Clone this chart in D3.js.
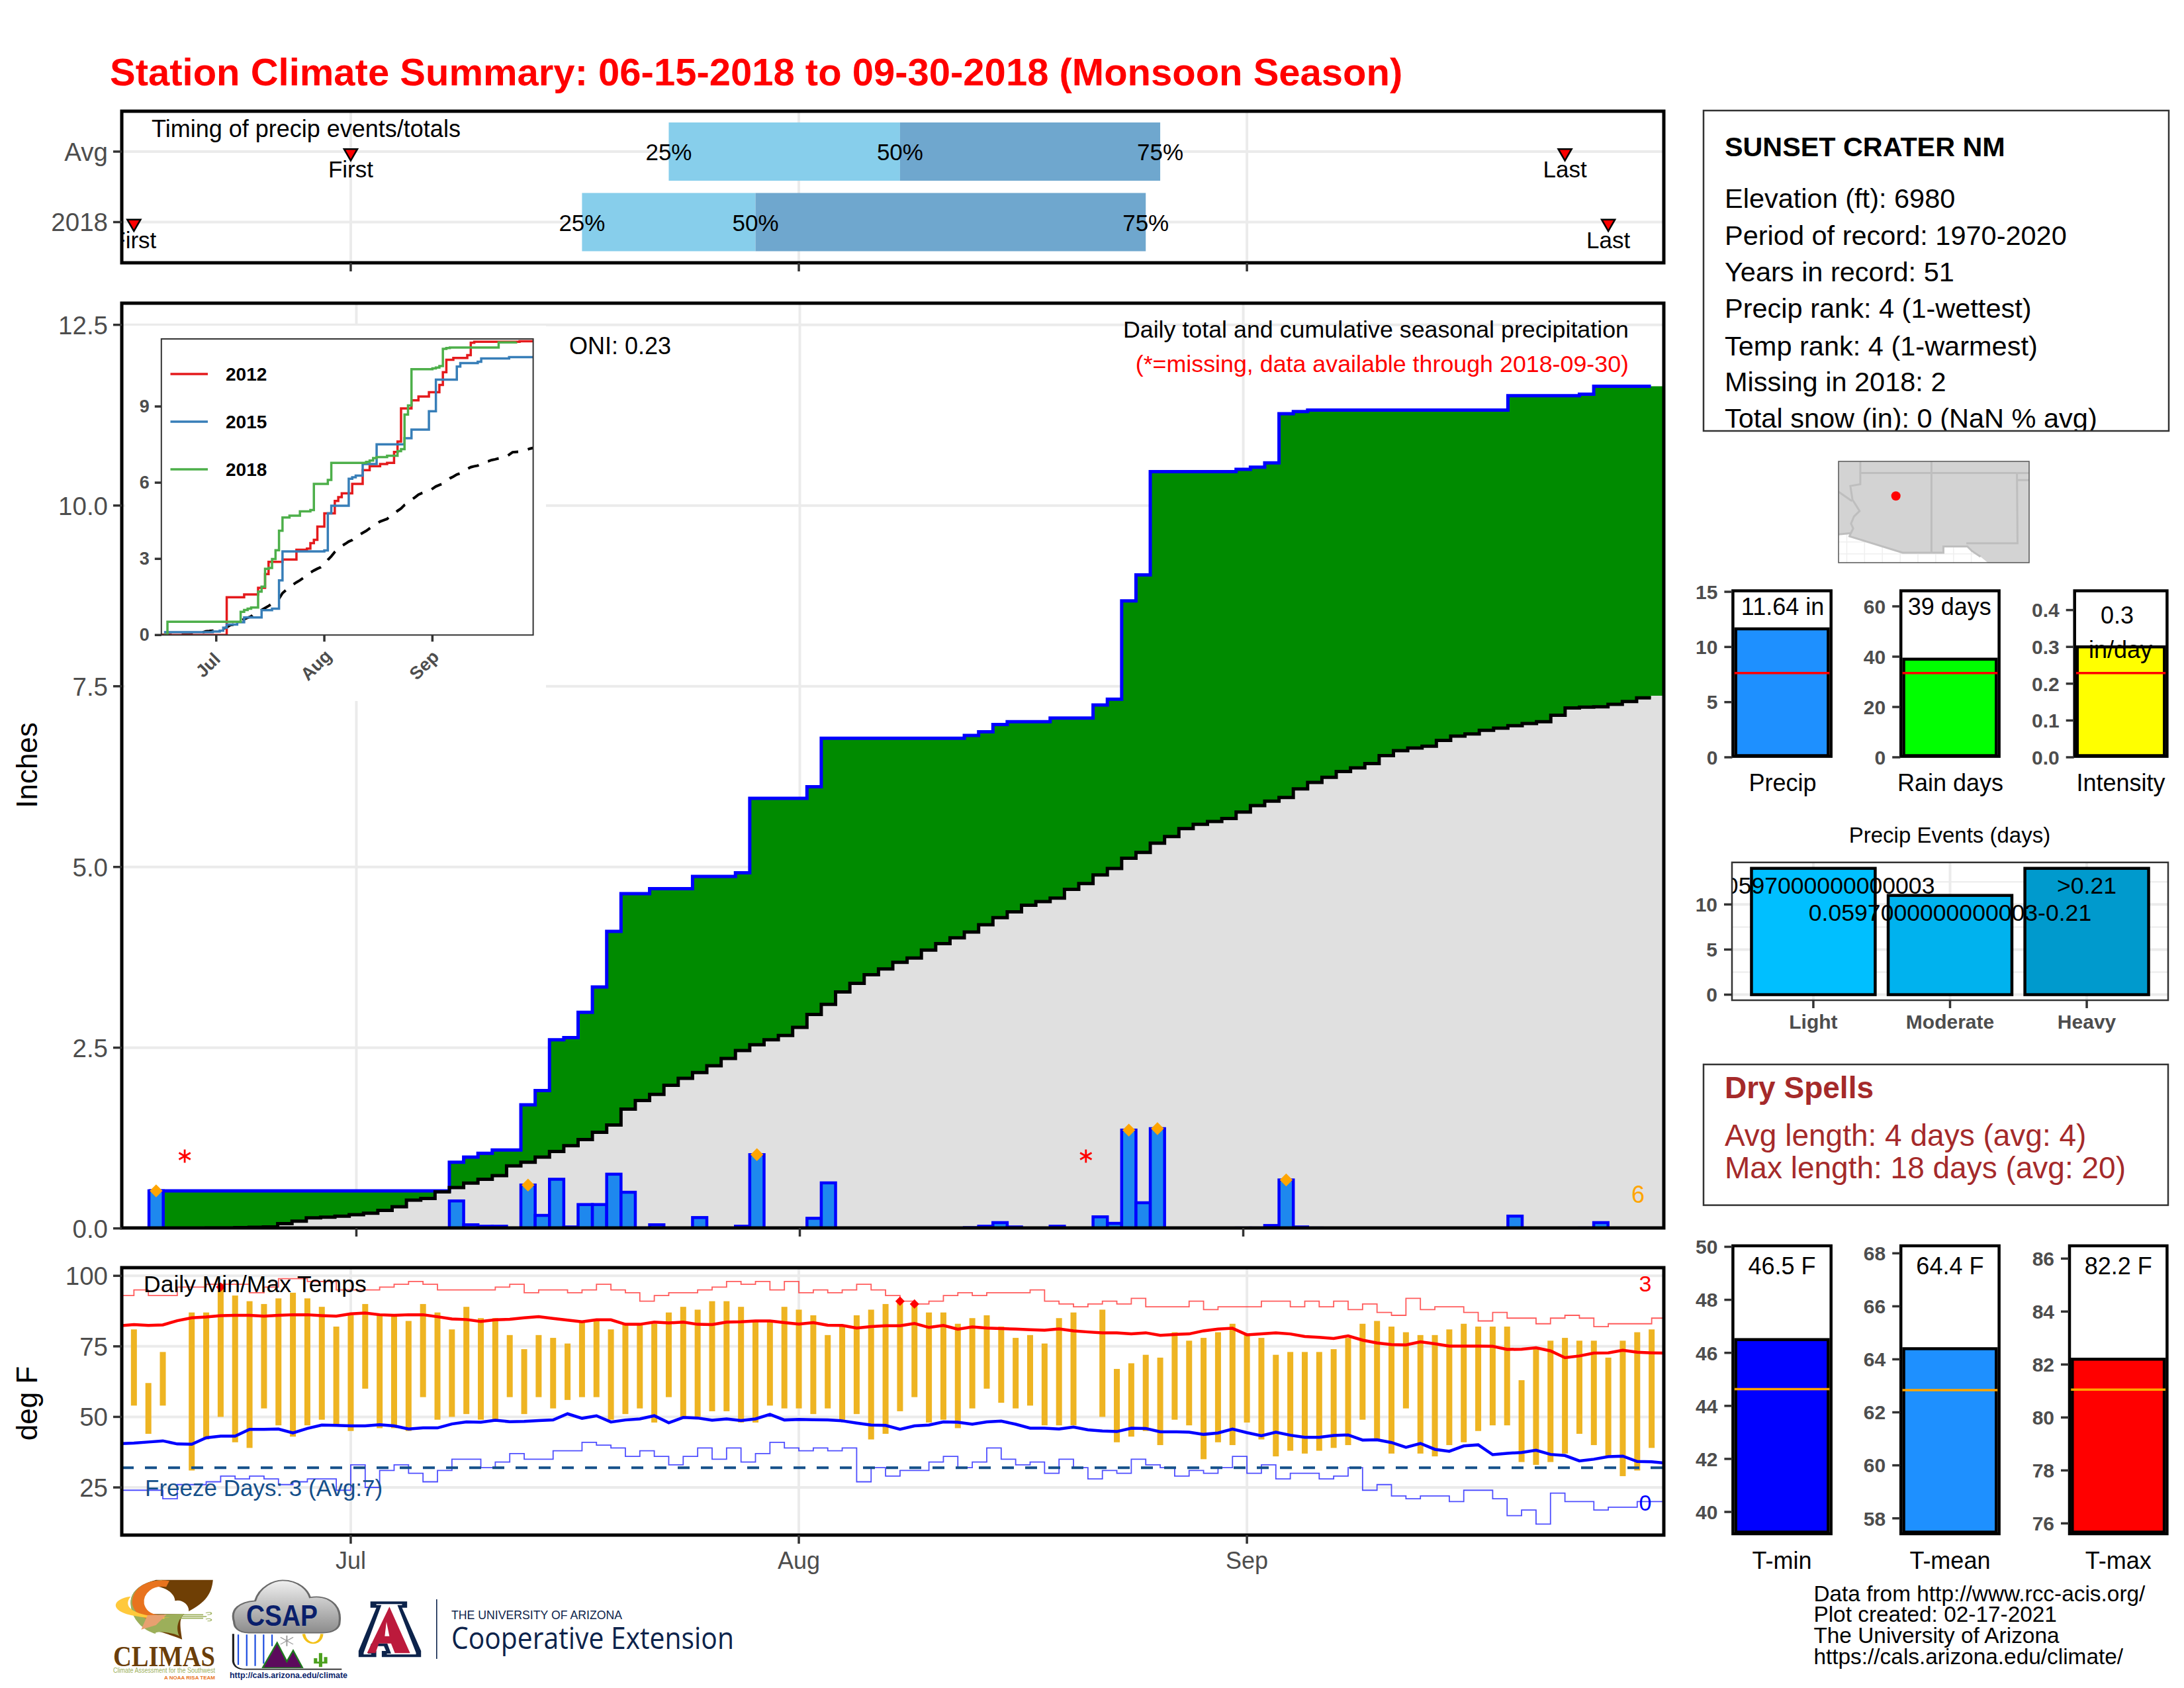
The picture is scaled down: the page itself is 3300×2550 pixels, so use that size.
<!DOCTYPE html>
<html><head><meta charset="utf-8">
<script src="https://cdn.jsdelivr.net/npm/d3@7"></script>
<style>html,body{margin:0;padding:0;background:#fff}svg{display:block}text{font-family:"Liberation Sans",Arial,sans-serif}</style>
</head><body><svg id="c" width="3300" height="2550" xmlns="http://www.w3.org/2000/svg"></svg>
<script>
// ---------- DATA (day index: 0 = Jun 15, 107 = Sep 30) ----------
const monthDays = [16, 47, 78];
const monthLabels = ["Jul", "Aug", "Sep"];
const timingRows = ["Avg", "2018"];
const timingPctAvg = [38, 54, 72];
const timingPct2018 = [32, 44, 71];
const timingFirst = [16, 1];
const timingLast = [100, 103];
const pctLabels = ["25%", "50%", "75%"];

const cum2018 = [0,0,.52,.52,.52,.52,.52,.52,.52,.52,.52,.52,.52,.52,.52,.52,.52,.52,.52,.52,.52,.52,.52,
 .916,.986,1.04,1.085,1.085,1.71,1.906,2.61,2.64,2.99,3.34,4.11,4.63,4.63,4.70,4.70,4.70,4.87,4.87,4.87,4.92,
 5.95,5.95,5.95,5.95,6.11,6.78,6.78,6.78,6.78,6.78,6.78,6.78,6.78,6.78,6.78,6.82,6.87,6.97,7.01,7.01,7.01,7.06,7.06,7.06,
 7.24,7.32,8.68,9.04,10.47,10.47,10.47,10.47,10.47,10.47,10.50,10.53,10.59,11.27,11.30,11.32,11.32,11.32,11.32,11.32,
 11.32,11.32,11.32,11.32,11.32,11.32,11.32,11.32,11.32,11.52,11.52,11.52,11.52,11.52,11.54,11.65,11.65,11.65,11.65,11.65];
const avgCum = [0,0,0,0,0,0,.005,.005,.01,.015,.02,.065,.10,.145,.155,.17,.19,.21,.25,.30,.39,.415,.505,
 .565,.626,.68,.73,.865,.916,.986,1.065,1.145,1.23,1.33,1.43,1.65,1.77,1.855,1.98,2.075,2.155,2.25,2.35,2.46,2.54,2.61,2.67,2.78,2.96,3.10,
 3.27,3.39,3.51,3.59,3.68,3.74,3.85,3.94,4.02,4.10,4.20,4.30,4.38,4.47,4.52,4.57,4.69,4.77,4.89,4.98,5.12,5.20,5.33,5.42,5.53,5.59,5.63,5.67,
 5.76,5.85,5.91,5.96,6.08,6.17,6.24,6.32,6.37,6.43,6.54,6.61,6.645,6.67,6.75,6.81,6.84,6.89,6.92,6.955,6.985,7.01,7.10,7.20,7.21,7.215,7.25,7.29,7.34,7.37];
const rainDays = [2,23,24,25,26,28,29,30,31,32,33,34,35,37,40,43,44,48,49,59,60,61,62,65,68,69,70,71,72,78,79,80,81,82,83,97,102,103];
const rainVals = [.52,.38,.05,.03,.03,.6,.18,.68,.02,.33,.33,.75,.5,.05,.15,.03,1.02,.14,.63,.01,.03,.08,.02,.03,.16,.07,1.36,.355,1.38,.005,.005,.04,.67,.02,.005,.17,.005,.08];
const heavyDays = [2,28,44,70,72,81];
const missingDays = [4,67];

const y2012Days = [0,19,24,28,30,31,35,39,42,43,44,45,47,50,51,52,55,58,60,63,65,67,68,69,72,74,77,80,81,82,84,88,89,90,103];
const y2012Vals = [0,1.49,1.60,1.86,2.4,2.88,2.97,3.36,3.40,3.62,3.75,4.27,4.79,5.28,5.43,5.58,5.95,6.49,6.65,6.73,6.78,7.21,7.62,8.92,9.24,9.39,9.56,9.85,10.35,10.84,10.91,11.02,11.51,11.55,11.57];
const y2015Days = [1,15,17,18,19,22,24,29,32,34,35,47,48,49,54,55,56,58,62,70,72,77,79,85,86,91,92,100];
const y2015Vals = [.11,.14,.17,.29,.415,.5,.69,.98,1.04,2.15,3.29,3.33,4.79,5.09,6.15,6.21,6.28,6.73,7.51,7.75,8.09,8.81,10.06,10.57,10.71,10.76,10.89,10.94];

const tHigh = [null,81,62,73,null,87,87,96,93,91,90,92,94,92,89,82,86,90,86,86,84,90,87,81,89,85,85,79,74,79,78,76,84,84,81,83,83,83,87,89,88,91,91,89,84,84,89,88,86,79,82,86,88,90,
 91,90,87,87,83,85,86,82,78,79,76,85,87,null,88,67,69,72,71,80,77,78,80,83,79,78,72,73,73,73,74,78,83,84,82,80,79,79,81,83,82,82,82,63,74,77,78,77,77,71,77,80,81];
const tLow = [null,54,44,54,null,31,42,50,41,39,53,47,43,47,49,47,45,60,46,46,45,57,49,50,51,49,49,57,51,57,53,56,57,57,49,51,53,48,57,50,50,52,52,48,48,54,53,53,51,53,49,51,42,44,
 52,57,48,49,46,53,60,55,53,54,47,47,47,null,50,41,43,45,40,49,47,35,41,40,48,42,36,38,37,38,39,40,49,42,37,53,37,36,40,41,45,47,47,34,33,34,37,44,40,36,29,31,39];
const normHigh = [82.3,82.7,82.4,82.6,84.1,85.1,85.4,85.9,86,86,85.7,86,86.2,86.2,85.9,85.7,86.5,86.8,86.2,86,86.2,86.2,85.5,84.7,84.5,83.8,84.4,84.6,85.1,85.5,84.9,84.3,83.7,84.4,84.4,82.8,82.8,83.6,83.3,83.6,82.8,82.7,83.6,83.7,84,84,83.4,82.9,83.4,82.5,82.4,81.5,82,82.3,
 82.3,83.1,81.7,82.4,81.1,81.9,81.5,81.3,81.1,80.9,80.7,81.2,80.5,80.1,79.8,79.8,79.4,79.8,78.9,79.2,79.4,80.5,81.1,81.4,79.1,79.4,79.8,79.4,78.5,78.2,77.8,78.7,77.2,76.2,75.6,75.5,76.6,75.9,75.1,75.1,75.1,75,73.9,74,74.5,73.4,71,71.6,72.6,72.7,73.6,72.9,72.7,72.6];
const normLow = [40.5,40.7,41.1,41.5,40.4,40.3,42.6,43.2,43.2,45.6,45.6,45.7,44.3,45.9,47.1,47,46.8,46.8,47.2,46.8,45.7,46.1,46.1,47.5,48.2,48.1,48.8,48.3,48.4,48.7,48.9,51.1,49.5,50.4,48.2,48.9,49.3,50.4,47.9,49.8,49.6,48.8,49.3,48.7,49.3,50.9,48.9,49.1,49,48.9,48.6,47.8,47.1,47,
 45.6,46.8,47.1,48.2,48.1,47.4,48.2,48.5,47.4,46,46,45.7,46.4,45.4,45,44.8,46,45.9,44.7,44.7,44.6,43.8,44.3,45.7,44.4,43.3,44.6,43.5,42.8,42.8,43.4,43.6,41.8,41.9,40.9,39.2,40.6,38.5,37.8,39.7,40.1,36.6,37.1,37.4,38.2,36.7,36.3,34.4,35,35.9,36.1,34.2,34.1,33.6];
const recHigh = [93,95,93,93,96,96,97,97,97,94,96,99,99,98,98,95,95,95,96,97,98,97,95,95,95,95,96,97,94,95,95,94,95,97,95,94,91,93,94,94,95,96,98,97,98,95,98,94,95,94,95,97,95,93,91,90,91,93,94,93,94,94,94,95,91,90,89,90,91,90,92,89,89,89,91,88,89,89,89,91,91,89,91,89,91,88,90,87,86,92,88,89,89,87,84,87,85,85,83,85,86,85,82,83,83,83,85,85];
const recLow = [24,24,24,21,26,26,27,29,28,29,28,26,27,28,28,24,33,25,31,33,30,27,31,35,35,32,34,37,35,35,38,38,41,40,39,36,38,36,33,36,39,35,39,34,37,41,39,38,39,38,39,27,32,29,31,31,34,36,32,34,39,35,33,34,30,35,32,28,31,30,35,33,32,29,31,30,32,36,30,33,28,30,30,28,29,32,24,26,22,21,22,22,20,24,24,21,15,17,12,23,20,20,17,18,18,20,20,20];
const recordHighDays = [7,54,55];
const freezeLine = 32;

const infoLines = ["Elevation (ft): 6980","Period of record: 1970-2020","Years in record: 51","Precip rank: 4 (1-wettest)","Temp rank: 4 (1-warmest)","Missing in 2018: 2","Total snow (in): 0 (NaN % avg)"];
const summaryNames = ["Precip","Rain days","Intensity"];
const summaryVals = [11.64,39,0.3];
const summaryAvg = [7.64,33.5,0.229];
const eventNames = ["Light","Moderate","Heavy"];
const eventVals = [14,11,14];
const eventLabels = ["<0.0597000000000003","0.0597000000000003-0.21",">0.21"];
const eventColors = ["#00BFFF","#00B2EE","#009ACD"];
const tempNames = ["T-min","T-mean","T-max"];
const tempVals = [46.5,64.4,82.2];
const tempAvg = [44.63,62.84,81.05];
const tempColors = ["#0000FF","#1E90FF","#FF0000"];
const footerLines = ["Data from http://www.rcc-acis.org/","Plot created: 02-17-2021","The University of Arizona","https://cals.arizona.edu/climate/"];
// map outlines, lon/lat
const mexico = [[-115.7,32.62],[-114.72,32.72],[-114.81,32.5],[-111.07,31.33],[-108.21,31.33],[-108.21,31.78],[-106.53,31.78],[-106.2,31.45],[-105.6,31.05],[-105.0,30.55],[-115.7,30.55]];
const azWest = [[-114.05,37.9],[-114.05,36.2],[-114.75,36.08],[-114.6,35.1],[-114.1,34.3],[-114.5,33.9],[-114.7,33.4],[-114.55,33.05],[-114.72,32.72]];
const caNv = [[-115.7,35.75],[-114.63,35.0]];
const lat37 = [[-114.05,37],[-103.04,37]];
const azNm = [[-109.05,37.9],[-109.05,31.33]];
const nmTx = [[-103.04,37],[-103,32],[-106.6,32]];
const panhandle = [[-103.04,36.5],[-102.1,36.5]];
const okCo = [[-103.04,37],[-102.1,37]];
const site = [-111.55,35.37];

// ---------- helpers ----------
const svg = d3.select("#c");
const defs = svg.append("defs");
function clip(id,x,y,w,h){defs.append("clipPath").attr("id",id).append("rect").attr("x",x).attr("y",y).attr("width",w).attr("height",h);}
function T(g,x,y,s,o={}){return g.append("text").attr("x",x).attr("y",y).text(s).attr("text-anchor",o.a||"start")
  .attr("fill",o.f||"#000").style("font-size",(o.s||36)+"px").style("font-weight",o.w||"normal").attr("font-family",o.ff||null);}
function styleAxis(g,size,weight,col){g.select(".domain").remove();
  g.selectAll(".tick line").attr("stroke","#333").attr("stroke-width",3.5);
  g.selectAll(".tick text").attr("fill",col||"#4D4D4D").attr("font-family",null).style("font-family",'"Liberation Sans"').style("font-size",size+"px").style("font-weight",weight||"normal");}
function nudge(g,dy){g.selectAll(".tick text").attr("dy",dy);}
function border(g,x,y,w,h,sw,col){g.append("rect").attr("x",x).attr("y",y).attr("width",w).attr("height",h).attr("fill","none").attr("stroke",col||"#000").attr("stroke-width",sw);}
const GRID="#EBEBEB";
const dIdx=a=>a.map((v,i)=>[i,v]);

// ---------- title ----------
T(svg,166,129,"Station Climate Summary: 06-15-2018 to 09-30-2018 (Monsoon Season)",{s:58,w:"bold",f:"#FF0000"});

const L=184,R=2514;
// ---------- timing panel ----------
{
 const top=168,bot=397;
 const x=d3.scaleLinear().domain([0.16,106.84]).range([L,R]);
 const y=d3.scalePoint().domain(timingRows).range([229,335.5]);
 const g=svg.append("g");
 clip("cTiming",L,top,R-L,bot-top);
 const pg=g.append("g").attr("clip-path","url(#cTiming)");
 monthDays.forEach(d=>pg.append("line").attr("x1",x(d)).attr("x2",x(d)).attr("y1",top).attr("y2",bot).attr("stroke",GRID).attr("stroke-width",4));
 timingRows.forEach(r=>pg.append("line").attr("x1",L).attr("x2",R).attr("y1",y(r)).attr("y2",y(r)).attr("stroke",GRID).attr("stroke-width",4));
 [[timingPctAvg,"Avg"],[timingPct2018,"2018"]].forEach(([p,r])=>{
  pg.append("rect").attr("x",x(p[0])).attr("width",x(p[1])-x(p[0])).attr("y",y(r)-44).attr("height",88).attr("fill","#87CEEB");
  pg.append("rect").attr("x",x(p[1])).attr("width",x(p[2])-x(p[1])).attr("y",y(r)-44).attr("height",88).attr("fill","#6FA7CE");
  p.forEach((d,i)=>T(pg,x(d),y(r)+13,pctLabels[i],{a:"middle",s:35}));
 });
 const tri=d3.symbol().type(d3.symbolTriangle).size(175)();
 timingRows.forEach((r,i)=>{
  [[timingFirst[i],"First"],[timingLast[i],"Last"]].forEach(([d,s])=>{
   pg.append("path").attr("d",tri).attr("transform",`translate(${x(d)},${y(r)+2}) rotate(180)`).attr("fill","#FF0000").attr("stroke","#000").attr("stroke-width",2.5);
   T(pg,x(d),y(r)+39,s,{a:"middle",s:35});
  });
 });
 T(pg,229,206.5,"Timing of precip events/totals");
 border(g,L,top,R-L,bot-top,5);
 const ax=g.append("g").attr("transform",`translate(0,${bot})`).call(d3.axisBottom(x).tickValues(monthDays).tickSize(13).tickFormat("").offset(0));styleAxis(ax,1);
 const ay=g.append("g").attr("transform",`translate(${L},0)`).call(d3.axisLeft(y).tickSize(13).tickPadding(8).offset(0));styleAxis(ay,38.5);nudge(ay,".36em");
}
// ---------- main panel ----------
{
 const top=458,bot=1855;
 const x=d3.scaleLinear().domain([-0.4,107.4]).range([L,R]);
 const y=d3.scaleLinear().domain([0,12.5]).range([1855.7,490.7]);
 const g=svg.append("g");
 clip("cMain",L,top,R-L,bot-top);
 const pg=g.append("g").attr("clip-path","url(#cMain)");
 monthDays.forEach(d=>pg.append("line").attr("x1",x(d)).attr("x2",x(d)).attr("y1",top).attr("y2",bot).attr("stroke",GRID).attr("stroke-width",4));
 d3.range(0,13,2.5).forEach(v=>pg.append("line").attr("x1",L).attr("x2",R).attr("y1",y(v)).attr("y2",y(v)).attr("stroke",GRID).attr("stroke-width",4));
 const series=d3.range(0,108).map(d=>({d,c:cum2018[d],a:avgCum[d]}));
 const withEnd=series.concat([{d:107.9,c:cum2018[107],a:avgCum[107]}]);
 pg.append("path").attr("d",d3.area().x(p=>x(p.d-.5)).y0(y(0)).y1(p=>y(p.a)).curve(d3.curveStepAfter)(withEnd)).attr("fill","#E0E0E0");
 pg.append("path").attr("d",d3.area().x(p=>x(p.d-.5)).y0(p=>y(p.a)).y1(p=>y(p.c)).curve(d3.curveStepAfter)(withEnd.filter(p=>p.d>=2))).attr("fill","#008B00");
 const st=d3.line().x(p=>x(p.d-.5)).y(p=>y(p.v)).curve(d3.curveStepAfter);
 const ends=k=>series.slice(0,107).map(p=>({d:p.d,v:p[k]})).concat([{d:107,v:series[106][k]}]);
 pg.append("path").attr("d",st(ends("c").filter(p=>p.d>=2))).attr("fill","none").attr("stroke","#0000FF").attr("stroke-width",5);
 pg.append("path").attr("d",st(ends("a"))).attr("fill","none").attr("stroke","#000").attr("stroke-width",5);
 rainDays.forEach((d,i)=>pg.append("rect").attr("x",x(d-.5)).attr("width",x(d+.5)-x(d-.5)).attr("y",y(rainVals[i])).attr("height",y(0)-y(rainVals[i])).attr("fill","#1E88EE").attr("stroke","#0000FF").attr("stroke-width",4.5));
 const dia=d3.symbol().type(d3.symbolSquare).size(190)();
 heavyDays.forEach(d=>pg.append("path").attr("d",dia).attr("transform",`translate(${x(d)},${y(rainVals[rainDays.indexOf(d)])}) rotate(45)`).attr("fill","#FFA500"));
 const ast=d3.symbol().type(d3.symbolAsterisk).size(283)();
 missingDays.forEach(d=>pg.append("path").attr("d",ast).attr("transform",`translate(${x(d)},${y(1)})`).attr("fill","none").attr("stroke","#FF0000").attr("stroke-width",2.8));
 T(pg,2475,1817,"6",{a:"middle",f:"#FFA500"});
 T(pg,2461,509.5,"Daily total and cumulative seasonal precipitation",{a:"end",s:35.8});
 T(pg,2461,561.5,"(*=missing, data available through 2018-09-30)",{a:"end",f:"#FF0000",s:35.8});
 T(pg,860,535,"ONI: 0.23");
 // white box behind inset
 const ig=g.append("g");
 ig.append("rect").attr("x",189).attr("y",492).attr("width",636).attr("height",567).attr("fill","#fff");
 const il=243.8,ir=805.6,it=512,ib=959.3;
 const xi=d3.scaleLinear().domain([0.25,106.9]).range([il,ir]);
 const yi=d3.scaleLinear().domain([0,11.66]).range([ib,it]);
 clip("cInset",il,it,ir-il,ib-it);
 const ip=ig.append("g").attr("clip-path","url(#cInset)");
 const sl=d3.line().x(p=>xi(p[0])).y(p=>yi(p[1])).curve(d3.curveStepAfter);
 const pair=(a,b)=>a.map((d,i)=>[d,b[i]]).concat([[107,b[b.length-1]]]);
 ip.append("path").attr("d",d3.line().x(p=>xi(p[0])).y(p=>yi(p[1]))(dIdx(avgCum))).attr("fill","none").attr("stroke","#000").attr("stroke-width",4).attr("stroke-dasharray","17 15");
 ip.append("path").attr("d",sl(pair(y2012Days,y2012Vals))).attr("fill","none").attr("stroke","#E41A1C").attr("stroke-width",3.5);
 ip.append("path").attr("d",sl(pair(y2015Days,y2015Vals))).attr("fill","none").attr("stroke","#377EB8").attr("stroke-width",3.5);
 ip.append("path").attr("d",sl(dIdx(cum2018).slice(1,103))).attr("fill","none").attr("stroke","#4DAF4A").attr("stroke-width",3.5);
 border(ig,il,it,ir-il,ib-it,2,"#333");
 const lg=[["2012","#E41A1C",565],["2015","#377EB8",637],["2018","#4DAF4A",709]];
 lg.forEach(([s,c,yy])=>{ig.append("line").attr("x1",257.5).attr("x2",314).attr("y1",yy).attr("y2",yy).attr("stroke",c).attr("stroke-width",3.5);
  T(ig,341,yy+10,s,{s:28,w:"bold"});});
 const iax=ig.append("g").attr("transform",`translate(0,${ib})`).call(d3.axisBottom(xi).tickValues(monthDays).tickFormat((d,i)=>monthLabels[i]).tickSize(10).offset(0));
 styleAxis(iax,27,"bold");
 iax.selectAll(".tick text").attr("text-anchor","middle").attr("dy",null).attr("x",null).attr("y",null).attr("transform","translate(-6,52) rotate(-45)");
 const iay=ig.append("g").attr("transform",`translate(${il},0)`).call(d3.axisLeft(yi).tickValues([0,3,6,9]).tickSize(10).tickPadding(8).offset(0));
 styleAxis(iay,27,"bold");
 border(g,L,top,R-L,bot-top,5);
 const ax=g.append("g").attr("transform",`translate(0,${bot})`).call(d3.axisBottom(x).tickValues(monthDays).tickSize(13).tickFormat("").offset(0));styleAxis(ax,1);
 const ay=g.append("g").attr("transform",`translate(${L},0)`).call(d3.axisLeft(y).tickValues([0,2.5,5,7.5,10,12.5]).tickFormat(d3.format(".1f")).tickSize(13).tickPadding(8).offset(0));styleAxis(ay,38.5);nudge(ay,".36em");
 T(svg,0,0,"Inches",{a:"middle",s:44}).attr("transform","translate(56,1156) rotate(-90)");
}
// ---------- temperature panel ----------
{
 const top=1915,bot=2319;
 const x=d3.scaleLinear().domain([0.16,106.84]).range([L,R]);
 const y=d3.scaleLinear().domain([25,100]).range([2247,1927.3]);
 const g=svg.append("g");
 clip("cTemp",L,top,R-L,bot-top);
 const pg=g.append("g").attr("clip-path","url(#cTemp)");
 monthDays.forEach(d=>pg.append("line").attr("x1",x(d)).attr("x2",x(d)).attr("y1",top).attr("y2",bot).attr("stroke",GRID).attr("stroke-width",4));
 [25,50,75,100].forEach(v=>pg.append("line").attr("x1",L).attr("x2",R).attr("y1",y(v)).attr("y2",y(v)).attr("stroke",GRID).attr("stroke-width",4));
 tHigh.forEach((h,d)=>{if(h===null)return;pg.append("rect").attr("x",x(d)-4.5).attr("width",9).attr("y",y(h)).attr("height",y(tLow[d])-y(h)).attr("fill","#EEB422");});
 const st=d3.line().x(p=>x(p[0])).y(p=>y(p[1])).curve(d3.curveStepAfter);
 pg.append("path").attr("d",st(dIdx(recHigh).concat([[108,85]]))).attr("fill","none").attr("stroke","#FF4040").attr("stroke-width",1.8).attr("opacity",.85);
 pg.append("path").attr("d",st(dIdx(recLow).concat([[108,20]]))).attr("fill","none").attr("stroke","#3030FF").attr("stroke-width",1.8).attr("opacity",.85);
 const ln=d3.line().x(p=>x(p[0])).y(p=>y(p[1]));
 pg.append("path").attr("d",ln(dIdx(normHigh))).attr("fill","none").attr("stroke","#FF0000").attr("stroke-width",4.5);
 pg.append("path").attr("d",ln(dIdx(normLow))).attr("fill","none").attr("stroke","#0000FF").attr("stroke-width",4.5);
 pg.append("line").attr("x1",L).attr("x2",R).attr("y1",y(freezeLine)).attr("y2",y(freezeLine)).attr("stroke","#15508A").attr("stroke-width",4).attr("stroke-dasharray","18 17");
 const dia=d3.symbol().type(d3.symbolSquare).size(100)();
 recordHighDays.forEach(d=>pg.append("path").attr("d",dia).attr("transform",`translate(${x(d)},${y(tHigh[d])}) rotate(45)`).attr("fill","#FF0000"));
 T(pg,217,1952,"Daily Min/Max Temps",{s:35.5});
 T(pg,219,2260,"Freeze Days: 3 (Avg:7)",{f:"#15508A",s:35});
 T(pg,2486,1951,"3",{a:"middle",f:"#FF0000",s:34});
 T(pg,2486,2282,"0",{a:"middle",f:"#0000FF",s:34});
 border(g,L,top,R-L,bot-top,5);
 const ax=g.append("g").attr("transform",`translate(0,${bot})`).call(d3.axisBottom(x).tickValues(monthDays).tickFormat((d,i)=>monthLabels[i]).tickSize(13).tickPadding(12).offset(0));styleAxis(ax,36);
 const ay=g.append("g").attr("transform",`translate(${L},0)`).call(d3.axisLeft(y).tickValues([25,50,75,100]).tickSize(13).tickPadding(8).offset(0));styleAxis(ay,38.5);nudge(ay,".36em");
 T(svg,0,0,"deg F",{a:"middle",s:44}).attr("transform","translate(56,2120) rotate(-90)");
}
// ---------- info box ----------
{
 const g=svg.append("g");
 clip("cInfo",2574,167,703,484);
 const c=g.append("g").attr("clip-path","url(#cInfo)");
 T(c,2606,235.7,"SUNSET CRATER NM",{s:41.3,w:"bold"});
 const ys=[314,370,424.6,480,536.5,590.7,646];
 infoLines.forEach((s,i)=>T(c,2606,ys[i],s,{s:41.5}));
 border(g,2574,167,703,484,2.5,"#333");
}
// ---------- map ----------
{
 const g=svg.append("g");
 const mx=d3.scaleLinear().domain([-109.05,-103.04]).range([2918.4,3047.6]);
 const my=d3.scaleLinear().domain([37,31.33]).range([714.6,835]);
 const line=d3.line().x(p=>mx(p[0])).y(p=>my(p[1]));
 const x0=2778,y0=697,w=288,h=153;
 clip("cMap",x0,y0,w,h);
 defs.append("clipPath").attr("id","cMex").append("path").attr("d",line(mexico)+"Z");
 const c=g.append("g").attr("clip-path","url(#cMap)");
 c.append("rect").attr("x",x0).attr("y",y0).attr("width",w).attr("height",h).attr("fill","#D3D3D3");
 [azWest,caNv,lat37,azNm,nmTx,panhandle,okCo].forEach(s=>c.append("path").attr("d",line(s)).attr("fill","none").attr("stroke","#BEBEBE").attr("stroke-width",3));
 c.append("path").attr("d",line(mexico)+"Z").attr("fill","#fff");
 const gl=c.append("g").attr("stroke","#EFEFEF").attr("stroke-width",1.5).attr("clip-path","url(#cMex)");
 d3.range(-115,-105,1.25).forEach(v=>gl.append("line").attr("x1",mx(v)).attr("x2",mx(v)).attr("y1",y0).attr("y2",y0+h));
 [31.25,32.1].forEach(v=>gl.append("line").attr("x1",x0).attr("x2",x0+w).attr("y1",my(v)).attr("y2",my(v)));
 c.append("path").attr("d",line(mexico.slice(0,9))).attr("fill","none").attr("stroke","#BEBEBE").attr("stroke-width",3);
 c.append("circle").attr("cx",mx(site[0])).attr("cy",my(site[1])).attr("r",7).attr("fill","#FF0000");
 border(g,x0,y0,w,h,1.5,"#555");
}
// ---------- summary bars ----------
{
 const panels=[[2618.4,2766.7],[2872.2,3020.6],[3134.7,3274.4]];
 const scales=[d3.scaleLinear().domain([0,15]).range([1144,894]),d3.scaleLinear().domain([0,60]).range([1144,916]),d3.scaleLinear().domain([0,.4]).range([1144,921.6])];
 const ticks=[[0,5,10,15],[0,20,40,60],[0,.1,.2,.3,.4]];
 const fmts=[d3.format("d"),d3.format("d"),d3.format(".1f")];
 const fills=["#1E90FF","#00FF00","#FFFF00"];
 const lab=[["11.64 in"],["39 days"],["0.3","in/day"]];
 const cx=[2693.5,2945.7,3199];
 const lx=[2693.5,2947,3204.6];
 const top=892.5,bot=1142.6;
 panels.forEach((p,i)=>{
  const g=svg.append("g");
  const y=scales[i];
  const x=d3.scaleBand().domain([summaryNames[i]]).range(p).padding(0.03);
  g.append("rect").attr("x",p[0]).attr("y",top).attr("width",p[1]-p[0]).attr("height",bot-top).attr("fill","#fff");
  g.append("rect").attr("x",x(summaryNames[i])).attr("width",x.bandwidth()).attr("y",y(summaryVals[i])).attr("height",y(0)-y(summaryVals[i])-2.5).attr("fill",fills[i]).attr("stroke","#000").attr("stroke-width",4.5);
  g.append("line").attr("x1",p[0]).attr("x2",p[1]).attr("y1",y(summaryAvg[i])).attr("y2",y(summaryAvg[i])).attr("stroke","#FF0000").attr("stroke-width",3.5);
  border(g,p[0],top,p[1]-p[0],bot-top,4.5);
  if(i<2)T(g,cx[i],928.5,lab[i][0],{a:"middle"});
  else{T(g,cx[i],941.5,lab[i][0],{a:"middle"});T(g,3204,993.5,lab[i][1],{a:"middle"});}
  T(g,lx[i],1195,summaryNames[i],{a:"middle"});
  const ay=g.append("g").attr("transform",`translate(${p[0]-1},0)`).call(d3.axisLeft(y).tickValues(ticks[i]).tickFormat(fmts[i]).tickSize(12).tickPadding(10).offset(0));
  styleAxis(ay,30,"bold");nudge(ay,".36em");
 });
}
// ---------- precip events ----------
{
 const g=svg.append("g");
 const l=2617,r=3276,top=1302.8,bot=1511;
 const x=d3.scaleBand().domain(eventNames).range([l+15,r-15]).paddingInner(0.095).paddingOuter(0.07);
 const y=d3.scaleLinear().domain([0,10]).range([1502.6,1366.3]);
 clip("cEvents",l,top,r-l,bot-top);
 const c=g.append("g").attr("clip-path","url(#cEvents)");
 c.append("rect").attr("x",l).attr("y",top).attr("width",r-l).attr("height",bot-top).attr("fill","#fff");
 [2.5,7.5,12.5].forEach(v=>c.append("line").attr("x1",l).attr("x2",r).attr("y1",y(v)).attr("y2",y(v)).attr("stroke",GRID).attr("stroke-width",2));
 [0,5,10].forEach(v=>c.append("line").attr("x1",l).attr("x2",r).attr("y1",y(v)).attr("y2",y(v)).attr("stroke",GRID).attr("stroke-width",4));
 eventNames.forEach(n=>{const xc=x(n)+x.bandwidth()/2;c.append("line").attr("x1",xc).attr("x2",xc).attr("y1",top).attr("y2",bot).attr("stroke",GRID).attr("stroke-width",4);});
 eventNames.forEach((n,i)=>c.append("rect").attr("x",x(n)).attr("width",x.bandwidth()).attr("y",y(eventVals[i])).attr("height",y(0)-y(eventVals[i])).attr("fill",eventColors[i]).attr("stroke","#000").attr("stroke-width",4.5));
 eventNames.forEach((n,i)=>T(c,x(n)+x.bandwidth()/2,y(eventVals[i])+38,eventLabels[i],{a:"middle",s:35.6}));
 border(g,l,top,r-l,bot-top,2.5,"#333");
 T(g,2946,1272.5,"Precip Events (days)",{a:"middle",s:33});
 const ax=g.append("g").attr("transform",`translate(0,${bot})`).call(d3.axisBottom(x).tickSize(12).tickPadding(10).offset(0));styleAxis(ax,30,"bold");
 const ay=g.append("g").attr("transform",`translate(${l},0)`).call(d3.axisLeft(y).tickValues([0,5,10]).tickSize(12).tickPadding(10).offset(0));styleAxis(ay,30,"bold");nudge(ay,".36em");
}
// ---------- dry spells ----------
{
 const g=svg.append("g");
 border(g,2574,1608,702,212.6,2.5,"#333");
 T(g,2606,1658.5,"Dry Spells",{s:46,w:"bold",f:"#A52A2A"});
 T(g,2606,1731,"Avg length: 4 days (avg: 4)",{s:46,f:"#A52A2A"});
 T(g,2606,1779.5,"Max length: 18 days (avg: 20)",{s:46,f:"#A52A2A"});
}
// ---------- temperature bars ----------
{
 const panels=[[2618.4,2766.7],[2872.2,3020.6],[3127,3274.4]];
 const scales=[d3.scaleLinear().domain([40,50]).range([2284,1883.5]),d3.scaleLinear().domain([58,68]).range([2293.7,1893.3]),d3.scaleLinear().domain([76,86]).range([2301.3,1901.3])];
 const ticks=[[40,42,44,46,48,50],[58,60,62,64,66,68],[76,78,80,82,84,86]];
 const top=1882,bot=2317;
 panels.forEach((p,i)=>{
  const g=svg.append("g");
  const y=scales[i];
  const x=d3.scaleBand().domain([tempNames[i]]).range(p).padding(0.03);
  const xc=(p[0]+p[1])/2;
  g.append("rect").attr("x",p[0]).attr("y",top).attr("width",p[1]-p[0]).attr("height",bot-top).attr("fill","#fff");
  g.append("rect").attr("x",x(tempNames[i])).attr("width",x.bandwidth()).attr("y",y(tempVals[i])).attr("height",bot-2.5-y(tempVals[i])).attr("fill",tempColors[i]).attr("stroke","#000").attr("stroke-width",4.5);
  g.append("line").attr("x1",p[0]).attr("x2",p[1]).attr("y1",y(tempAvg[i])).attr("y2",y(tempAvg[i])).attr("stroke","#FFA500").attr("stroke-width",3.5);
  border(g,p[0],top,p[1]-p[0],bot-top,4.5);
  T(g,xc,1925,tempVals[i]+" F",{a:"middle"});
  T(g,xc,2370,tempNames[i],{a:"middle"});
  const ay=g.append("g").attr("transform",`translate(${p[0]-1},0)`).call(d3.axisLeft(y).tickValues(ticks[i]).tickSize(12).tickPadding(10).offset(0));
  styleAxis(ay,30,"bold");nudge(ay,".36em");
 });
}
// ---------- footer ----------
{
 const ys=[2419,2450,2481.5,2513.6];
 footerLines.forEach((s,i)=>T(svg,2740.4,ys[i],s,{s:33.4}));
}
// ---------- logos (decorative artwork, local units of 1/1.568 x 1/3 px) ----------
{
 const lg=svg.append("g").attr("transform","translate(140,2340) scale(0.6378,0.3333)");
 const P=(d,f,s,sw)=>lg.append("path").attr("d",d).attr("fill",f||"none").attr("stroke",s||"none").attr("stroke-width",sw||0);
 // CLIMAS
 P("M150,140 L285,140 C282,200 270,240 225,285 C205,305 205,330 212,410 C180,385 150,370 130,360 C100,320 85,270 92,220 C100,170 130,150 150,140Z","#6F3F05");
 P("M165,140 C110,150 88,200 90,250 C92,320 120,370 150,385 C140,370 190,375 205,395 C195,350 205,320 215,295 L120,300Z","#9CAF5A");
 P("M130,180 C150,150 195,190 195,235 C215,225 235,265 225,295 L130,295 C115,260 115,210 130,180Z","#fff");
 P("M178,158 C130,145 104,200 108,250 C112,280 125,305 150,312","none","#E8731E",28);
 P("M90,215 C50,225 40,270 80,295 C120,315 170,320 190,312 C140,310 60,290 90,215Z","#FFC93C");
 P("M170,298 H262 M170,306 H270 M170,314 H262","none","#9CAF5A",5);
 P("M130,300 L175,298 L150,345 L115,365Z","#E8A070");
 P("M268,290 C285,280 285,300 272,298 M268,318 C285,310 285,330 272,326","none","#9CAF5A",3);
 // CSAP
 const grad=defs.append("linearGradient").attr("id","cloudG").attr("x1",0).attr("x2",0).attr("y1",0).attr("y2",1);
 grad.append("stop").attr("offset","0").attr("stop-color","#F0F0F0");grad.append("stop").attr("offset","1").attr("stop-color","#8C8C8C");
 P("M335,330 C325,270 350,240 385,235 C395,170 430,142 450,142 C490,142 510,190 515,220 C555,205 590,250 585,330 C585,360 570,380 545,380 L370,380 C345,380 335,355 335,330Z","url(#cloudG)","#6A6A6A",5);
 P("M345,388 V525 M365,388 V530 M385,388 V530 M405,388 V520 M425,388 V440","none","#1F4FE0",3.5);
 P("M333,385 V510 Q336,545 362,545 H590","none","#222",5);
 P("M403,538 L437,425 L460,510 L475,460 L497,538Z","#5C0A5C","#1E7A1E",4);
 P("M540,472 V535 M528,495 V515 H552 V490","none","#4CA01E",8);
 P("M460,392 V440 M445,400 L475,432 M475,400 L445,432","none","#9A9A9A",3);
 P("M500,385 C505,440 540,440 543,385","none","#F2C018",7);
 // Arizona A
 P("M658,238 H745 V266 H733 L778,462 V490 H685 V462 H695 L690,440 H668 L663,462 H672 V490 H630 V462 L672,266 H658Z","#0C234B");
 P("M672,250 H733 V254 H722 L766,470 V478 H697 V474 H707 L698,428 H660 L652,474 H660 V478 H642 V470 L684,254 H672Z","#fff");
 P("M703,262 L752,472 H716 L707,428 H678 L670,472 H650Z","#BC1A3C");
 P("M692,395 H703 L696,330Z","#fff");
 P("M815,228 V498","none","#0C234B",2.5);
 const t=svg.append("g");
 T(t,171,2517,"CLIMAS",{s:45,w:"bold",f:"#6B3E0A"}).style("font-family",'"Liberation Serif"').attr("textLength",154).attr("lengthAdjust","spacingAndGlyphs");
 T(t,171,2527,"Climate Assessment for the Southwest",{s:11,f:"#9CAF5A"}).attr("textLength",154).attr("lengthAdjust","spacingAndGlyphs");
 T(t,325,2537,"A NOAA RISA TEAM",{s:8,a:"end",f:"#E8731E",w:"bold"});
 T(t,372,2456,"CSAP",{s:44,w:"bold",f:"#0A1F6B"}).attr("textLength",108).attr("lengthAdjust","spacingAndGlyphs");
 T(t,347,2535,"http://cals.arizona.edu/climate",{s:13,w:"bold",f:"#0A1F6B"}).attr("textLength",178).attr("lengthAdjust","spacingAndGlyphs");
 T(t,682,2446,"THE UNIVERSITY OF ARIZONA",{s:18,f:"#0C234B"}).attr("textLength",258).attr("lengthAdjust","spacingAndGlyphs");
 T(t,682,2491,"Cooperative Extension",{s:45,f:"#0C234B"}).style("font-family",'"Open Sans"').attr("textLength",427).attr("lengthAdjust","spacingAndGlyphs");
}
</script></body></html>
